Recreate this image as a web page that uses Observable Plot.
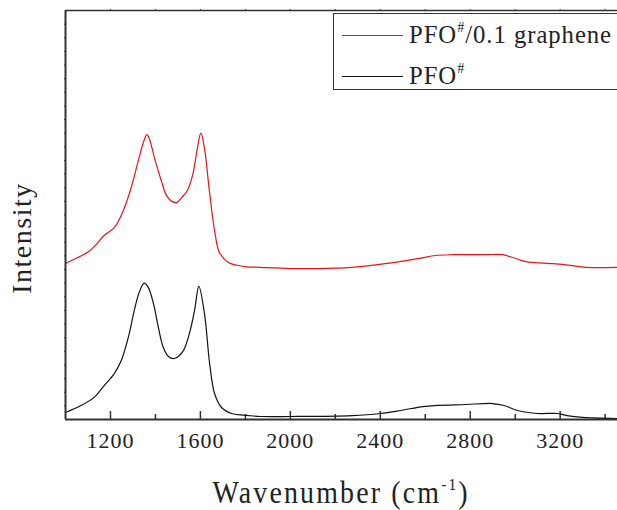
<!DOCTYPE html>
<html>
<head>
<meta charset="utf-8">
<script src="https://cdn.jsdelivr.net/npm/d3@7"></script>
<script src="https://cdn.jsdelivr.net/npm/@observablehq/plot@0.6"></script>
<style>
  body { margin: 0; background: #fff; }
  #fig { position: relative; width: 617px; height: 510px; overflow: hidden;
         font-family: "Liberation Serif", "Times New Roman", serif; color: #222; }
  #fig svg { position: absolute; left: 0; top: 0; }
  #fig svg text { letter-spacing: 1px; }
  .xtitle { position: absolute; left: 65px; width: 552px; top: 477px; text-align: center;
            font-size: 31px; line-height: 31px; letter-spacing: 2.4px; white-space: nowrap;
            transform: scaleX(0.9); transform-origin: 277px 0; }
  .ytitle { position: absolute; left: 22px; top: 238px; transform: translate(-50%, -50%) rotate(-90deg);
            font-size: 28px; line-height: 28px; letter-spacing: 1.5px; white-space: nowrap; }
  .sup { position: relative; font-size: 17px; top: -13px; }
  .legend { position: absolute; left: 333px; top: 13px; width: 320px; height: 77px;
            box-sizing: border-box; border: 1.5px solid #333; background: #fff; }
  .legend .ln { position: absolute; left: 8px; width: 61px; height: 0; }
  .legend .lt { position: absolute; left: 75px; font-size: 26px; line-height: 26px;
                letter-spacing: 1px; white-space: nowrap; transform: scaleX(0.95); transform-origin: 0 0; }
  .legend .lsup { position: relative; font-size: 15px; top: -11px; }
</style>
</head>
<body>
<div id="fig">
  <div class="xtitle">Wavenumber (cm<span class="sup">-1</span>)</div>
  <div class="ytitle">Intensity</div>
</div>
<script>
// Raman spectra: wavenumber (cm^-1) and intensity (a.u., curves vertically offset)
const seriesNames = ["PFO#/0.1 graphene", "PFO#"];
const seriesColors = ["#e8141c", "#111111"];

const grapheneWn = [1000, 1050, 1099, 1140, 1172, 1217, 1257, 1292, 1324, 1346, 1362, 1373, 1395, 1426,
  1449, 1473, 1496, 1518, 1542, 1565, 1587, 1602, 1618, 1641, 1665, 1685, 1725, 1797, 1868, 2000,
  2200, 2275, 2422, 2574, 2645, 2721, 2868, 2944, 2989, 3047, 3167, 3243, 3315, 3455];
const grapheneI = [11.45, 11.85, 12.27, 12.9, 13.5, 14.07, 15.33, 17.0, 19.0, 20.3, 20.9, 20.6, 19.23, 17.52,
  16.44, 16.0, 15.93, 16.3, 16.8, 17.9, 19.95, 21.0, 19.9, 16.6, 13.65, 12.24, 11.52, 11.22, 11.16, 11.07,
  11.1, 11.16, 11.43, 11.82, 12.03, 12.09, 12.09, 12.09, 11.88, 11.58, 11.43, 11.31, 11.16, 11.16];

const pfoWn = [1000, 1069, 1127, 1172, 1217, 1248, 1279, 1306, 1328, 1350, 1368, 1391, 1413, 1435,
  1458, 1480, 1502, 1525, 1551, 1574, 1593, 1618, 1641, 1663, 1694, 1739, 1815, 1868, 2000, 2275,
  2400, 2490, 2590, 2650, 2780, 2900, 2950, 3010, 3100, 3190, 3230, 3300, 3455];
const pfoI = [0.51, 1.02, 1.62, 2.49, 3.36, 4.32, 6.0, 8.0, 9.33, 10.0, 9.69, 8.52, 6.75, 5.28,
  4.62, 4.47, 4.62, 5.07, 6.3, 8.0, 9.76, 7.78, 4.11, 1.91, 0.88, 0.44, 0.29, 0.22, 0.22, 0.29,
  0.44, 0.66, 0.95, 1.03, 1.1, 1.17, 1.03, 0.66, 0.44, 0.44, 0.29, 0.15, 0.07];

const majorTicks = [1200, 1600, 2000, 2400, 2800, 3200];
const minorTicks = [1400, 1800, 2200, 2600, 3000, 3400];
const topTicks = [1200, 1400, 1600, 1800, 2000, 2200, 2400, 2600, 2800, 3000, 3200, 3400];
const leftTicks = d3.range(1, 30);

const grapheneData = grapheneWn.map((w, i) => ({w, v: grapheneI[i]}));
const pfoData = pfoWn.map((w, i) => ({w, v: pfoI[i]}));

const axisColor = "#333";

const chart = Plot.plot({
  width: 617,
  height: 510,
  marginLeft: 65,
  marginRight: 0,
  marginTop: 10,
  marginBottom: 91,
  x: {domain: [1000, 3455]},
  y: {domain: [0, 30]},
  style: {fontFamily: "'Liberation Serif', 'Times New Roman', serif", fontSize: "22px", color: "#222", background: "transparent"},
  marks: [
    Plot.axisY({ticks: leftTicks, tickSize: 2, dx: 1, text: null, label: null, stroke: axisColor}),
    Plot.axisX({anchor: "top", ticks: topTicks, tickSize: 2, text: null, label: null, stroke: axisColor}),
    Plot.axisX({ticks: majorTicks, tickSize: 8, dy: -8, text: null, label: null, stroke: axisColor, strokeWidth: 1.5}),
    Plot.axisX({ticks: minorTicks, tickSize: 5, dy: -5, text: null, label: null, stroke: axisColor, strokeWidth: 1.5}),
    Plot.axisX({ticks: majorTicks, tickSize: 0, tickPadding: 13, tickFormat: "d", label: null, fontSize: 22, fill: "#222"}),
    Plot.ruleY([30], {stroke: axisColor, strokeWidth: 1.5}),
    Plot.line(grapheneData, {x: "w", y: "v", stroke: seriesColors[0], strokeWidth: 1.2, curve: "catmull-rom"}),
    Plot.line(pfoData, {x: "w", y: "v", stroke: seriesColors[1], strokeWidth: 1.2, curve: "catmull-rom"}),
    Plot.ruleY([0], {stroke: axisColor, strokeWidth: 2}),
    Plot.ruleX([1000], {stroke: axisColor, strokeWidth: 2})
  ]
});

const fig = document.getElementById("fig");
fig.insertBefore(chart, fig.firstChild);

// Legend box inside the plot area
const legend = document.createElement("div");
legend.className = "legend";
const rows = [{lineTop: 20.5, textTop: 8.2}, {lineTop: 61.5, textTop: 49.2}];
seriesNames.forEach((name, i) => {
  const ln = document.createElement("div");
  ln.className = "ln";
  ln.style.top = rows[i].lineTop + "px";
  ln.style.borderTop = "1.3px solid " + seriesColors[i];
  legend.appendChild(ln);
  const lt = document.createElement("div");
  lt.className = "lt";
  lt.style.top = rows[i].textTop + "px";
  const [head, tail] = name.split("#");
  lt.append(head);
  const sup = document.createElement("span");
  sup.className = "lsup";
  sup.textContent = "#";
  lt.appendChild(sup);
  lt.append(tail);
  legend.appendChild(lt);
});
fig.appendChild(legend);
</script>
</body>
</html>
